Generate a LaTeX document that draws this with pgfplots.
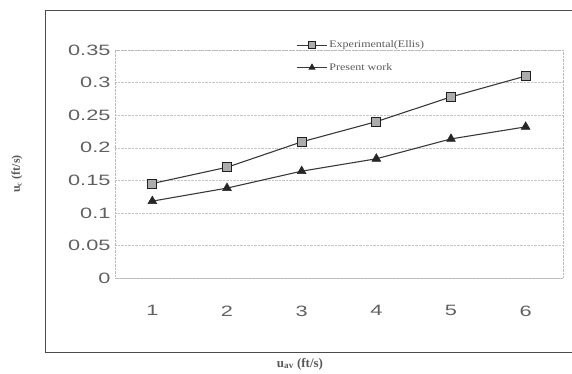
\documentclass[border=0pt]{standalone}
\usepackage{pgfplots}
\pgfplotsset{compat=1.18}
\usepackage{fontspec}
\setmainfont{Liberation Serif}
\newfontfamily\tickfont[FakeStretch=1.45]{Liberation Sans}
\newfontfamily\legfont[FakeStretch=1.2]{Liberation Serif}
\begin{document}
\begin{tikzpicture}[x=1pt,y=1pt]
\useasboundingbox (0,0) rectangle (572,374);
\draw[gray!60!black, line width=0.8pt] (45,22) -- (45,364) -- (580,364);
\draw[gray!60!black, line width=0.9pt] (45,22) -- (580,22);
\begin{axis}[
  at={(115pt,96pt)}, anchor=south west,
  width=448pt, height=228pt, scale only axis,
  xmin=0.5, xmax=6.5, ymin=0, ymax=0.35,
  xtick={1,2,3,4,5,6},
  ytick={0,0.05,0.1,0.15,0.2,0.25,0.3,0.35},
  ymajorgrids,
  grid style={densely dotted, gray!45},
  axis line style={densely dotted, gray!55},
  major tick length=0pt,
  /pgf/number format/assume math mode=true,
  /pgf/number format/fixed,
  /pgf/number format/precision=2,
  tick label style={font=\tickfont\fontsize{15}{15}\selectfont, text=gray!75!black},
  xticklabel style={yshift=-24pt},
  yticklabel style={xshift=-1pt},
  legend style={at={(0.405,1.05)}, anchor=north west, draw=none, fill=none,
    font=\legfont\fontsize{10}{10}\selectfont, text=gray!70!black,
    row sep=10pt, inner sep=0pt},
  legend cell align=left,
  legend image code/.code={\draw[mark repeat=2,mark phase=2,#1] plot coordinates {(0pt,0pt)(15pt,0pt)(30pt,0pt)};},
  legend image post style={mark size=3.5pt, line width=0.7pt},
]
\addplot[color=gray!45!black, line width=1.1pt, mark=square*, mark size=4.5pt,
  mark options={fill=gray!65, draw=gray!25!black, line width=0.9pt, solid}]
  coordinates {(1,0.145)(2,0.170)(3,0.209)(4,0.240)(5,0.278)(6,0.310)};
\addlegendentry{Experimental(Ellis)}
\addplot[color=gray!45!black, line width=1.1pt, mark=triangle*, mark size=5pt,
  mark options={fill=gray!30!black, draw=gray!30!black, line width=0.6pt, solid}]
  coordinates {(1,0.118)(2,0.138)(3,0.164)(4,0.183)(5,0.2135)(6,0.232)};
\addlegendentry{Present work}
\end{axis}
\node[rotate=90, font=\bfseries\fontsize{12}{12}\selectfont, text=gray!70!black] at (17,200) {u$_{\mathbf{c}}$ (ft/s)};
\node[font=\bfseries\fontsize{13}{13}\selectfont, text=gray!70!black] at (300,10) {u$_{\mathbf{av}}$ (ft/s)};
\end{tikzpicture}
\end{document}
